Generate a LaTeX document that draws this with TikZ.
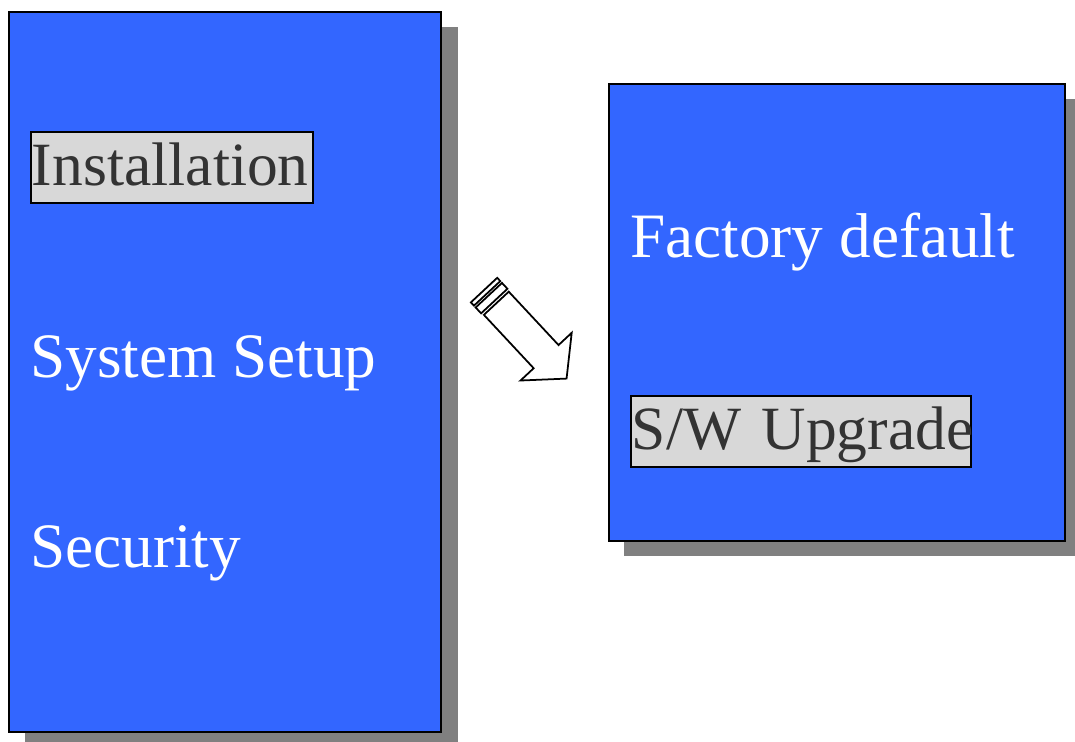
\documentclass[tikz,border=0pt]{standalone}
\usepackage{fontspec}
\setmainfont{Liberation Serif}
\definecolor{panelblue}{HTML}{3366FF}
\definecolor{tagfill}{HTML}{D8D8D8}
\definecolor{tagtext}{HTML}{333333}
\definecolor{shadowgray}{HTML}{808080}
\tikzset{
  panel/.style = {fill=panelblue, draw=black, line width=1.1pt},
  panelshadow/.style = {fill=shadowgray},
  lbl/.style = {anchor=base west, inner sep=0pt, text=white,
                font=\fontsize{36}{40}\selectfont},
  tag/.style = {anchor=north west, fill=tagfill, draw=black, line width=1.1pt,
                text=tagtext, font=\fontsize{35}{40}\selectfont,
                align=left, inner xsep=0.02cm, inner ysep=0pt,
                text height=1.08cm, text depth=0.34cm},
  arrowline/.style = {draw=black, fill=white, line width=1pt, line join=miter}
}
\begin{document}
\begin{tikzpicture}[x=0.02cm, y=-0.02cm]
    \useasboundingbox (0,0) rectangle (1075,742);

    % left panel
    \fill [panelshadow]     (25,27) rectangle (458,750);
    \draw [panel]           (9,12) rectangle (441,732);

    % right panel
    \fill [panelshadow]     (624,99) rectangle (1085,556);
    \draw [panel]           (609,84) rectangle (1065,541);

    % left labels
    \node [tag, text width=5.6cm]   (inst)    at (30,131) {\mbox{Installation}};
    \node [lbl]                     (sysset)  at (30,378) {System Setup};
    \node [lbl]                     (secur)   at (30,568) {Security};

    % right labels
    \node [lbl]                     (factory) at (630,258) {Factory default};
    \node [tag, text width=6.76cm]  (upgrade) at (630,395) {\mbox{S/W Upgrade}};

    % striped block arrow
    \begin{scope}[shift = {(497,304)}, rotate = -47]
        \draw [arrowline] (-19,-18) rectangle (-14.5,18);
        \draw [arrowline] (-12,-18) rectangle (-4,18);
        \draw [arrowline] (-1,-17) -- (72,-17) -- (72,-35) -- (102,0)
                          -- (72,35) -- (72,17) -- (-1,17) -- cycle;
    \end{scope}
\end{tikzpicture}
\end{document}
